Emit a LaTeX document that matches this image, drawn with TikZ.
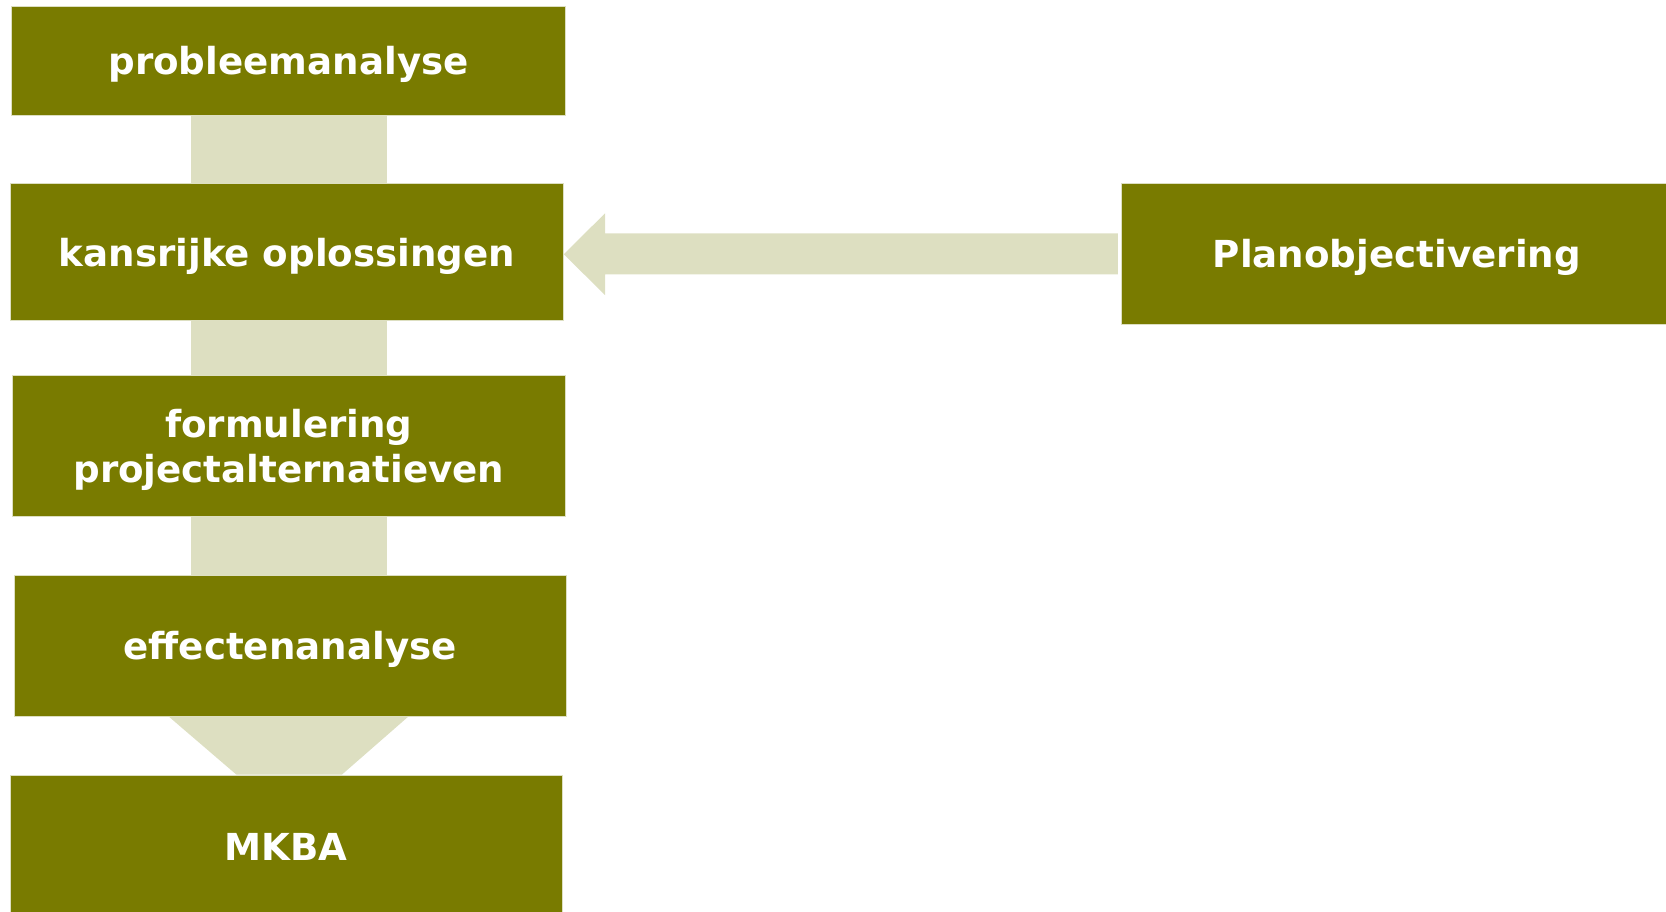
\documentclass[tikz,border=0pt]{standalone}
\usepackage{fontspec}
\setmainfont{DejaVu Sans}
\usetikzlibrary{calc}
\definecolor{olive}{RGB}{121,123,0}
\definecolor{pale}{RGB}{221,223,193}
\begin{document}
\begin{tikzpicture}[x=1pt,y=-1pt,
  stepbox/.style={rectangle, fill=olive, draw=pale, line width=0.6pt, inner sep=0pt,
    text=white, align=center, font=\fontsize{37.2}{44.6}\selectfont\bfseries},
  lowtext/.style={text height=37.2pt, text depth=8.8pt},
  lowtwo/.style={text height=81.4pt, text depth=8.8pt},
  conn/.style={fill=pale}]
\useasboundingbox (0,0) rectangle (1666,911);
\node[stepbox, lowtext, minimum width=554pt, minimum height=109pt] (b1) at (288.5,60.5) {probleemanalyse};
\node[stepbox, lowtext, minimum width=553pt, minimum height=137pt] (b2) at (287,252) {kansrijke oplossingen};
\node[stepbox, lowtwo, minimum width=553.5pt, minimum height=140.3pt] (b3) at (288.8,445.9) {formulering\\projectalternatieven};
\node[stepbox, lowtext, minimum width=552.6pt, minimum height=140.7pt] (b4) at (290.1,645.6) {effectenanalyse};
\node[stepbox, minimum width=552.6pt, minimum height=144pt] (b5) at (286.3,847) {MKBA};
\node[stepbox, lowtext, minimum width=552pt, minimum height=140.7pt] (po) at (1396.8,253.7) {Planobjectivering};
% vertical connectors
\fill[conn] (191,0 |- b1.south) rectangle (386.5,0 |- b2.north);
\fill[conn] (191,0 |- b2.south) rectangle (386.5,0 |- b3.north);
\fill[conn] (191,0 |- b3.south) rectangle (386.5,0 |- b4.north);
% trapezoid
\fill[conn] (168.4,0 |- b4.south) -- (408.7,0 |- b4.south) -- (341.8,0 |- b5.north) -- (236.5,0 |- b5.north) -- cycle;
% horizontal arrow
\coordinate (tip) at (b2.east |- 0,254.3);
\fill[conn] (tip) -- (605,213.3) -- (605,233.3) -- ([xshift=-2.6pt]po.west |- 0,233.3)
  -- ([xshift=-2.6pt]po.west |- 0,274.3) -- (605,274.3) -- (605,295) -- cycle;
\end{tikzpicture}
\end{document}
